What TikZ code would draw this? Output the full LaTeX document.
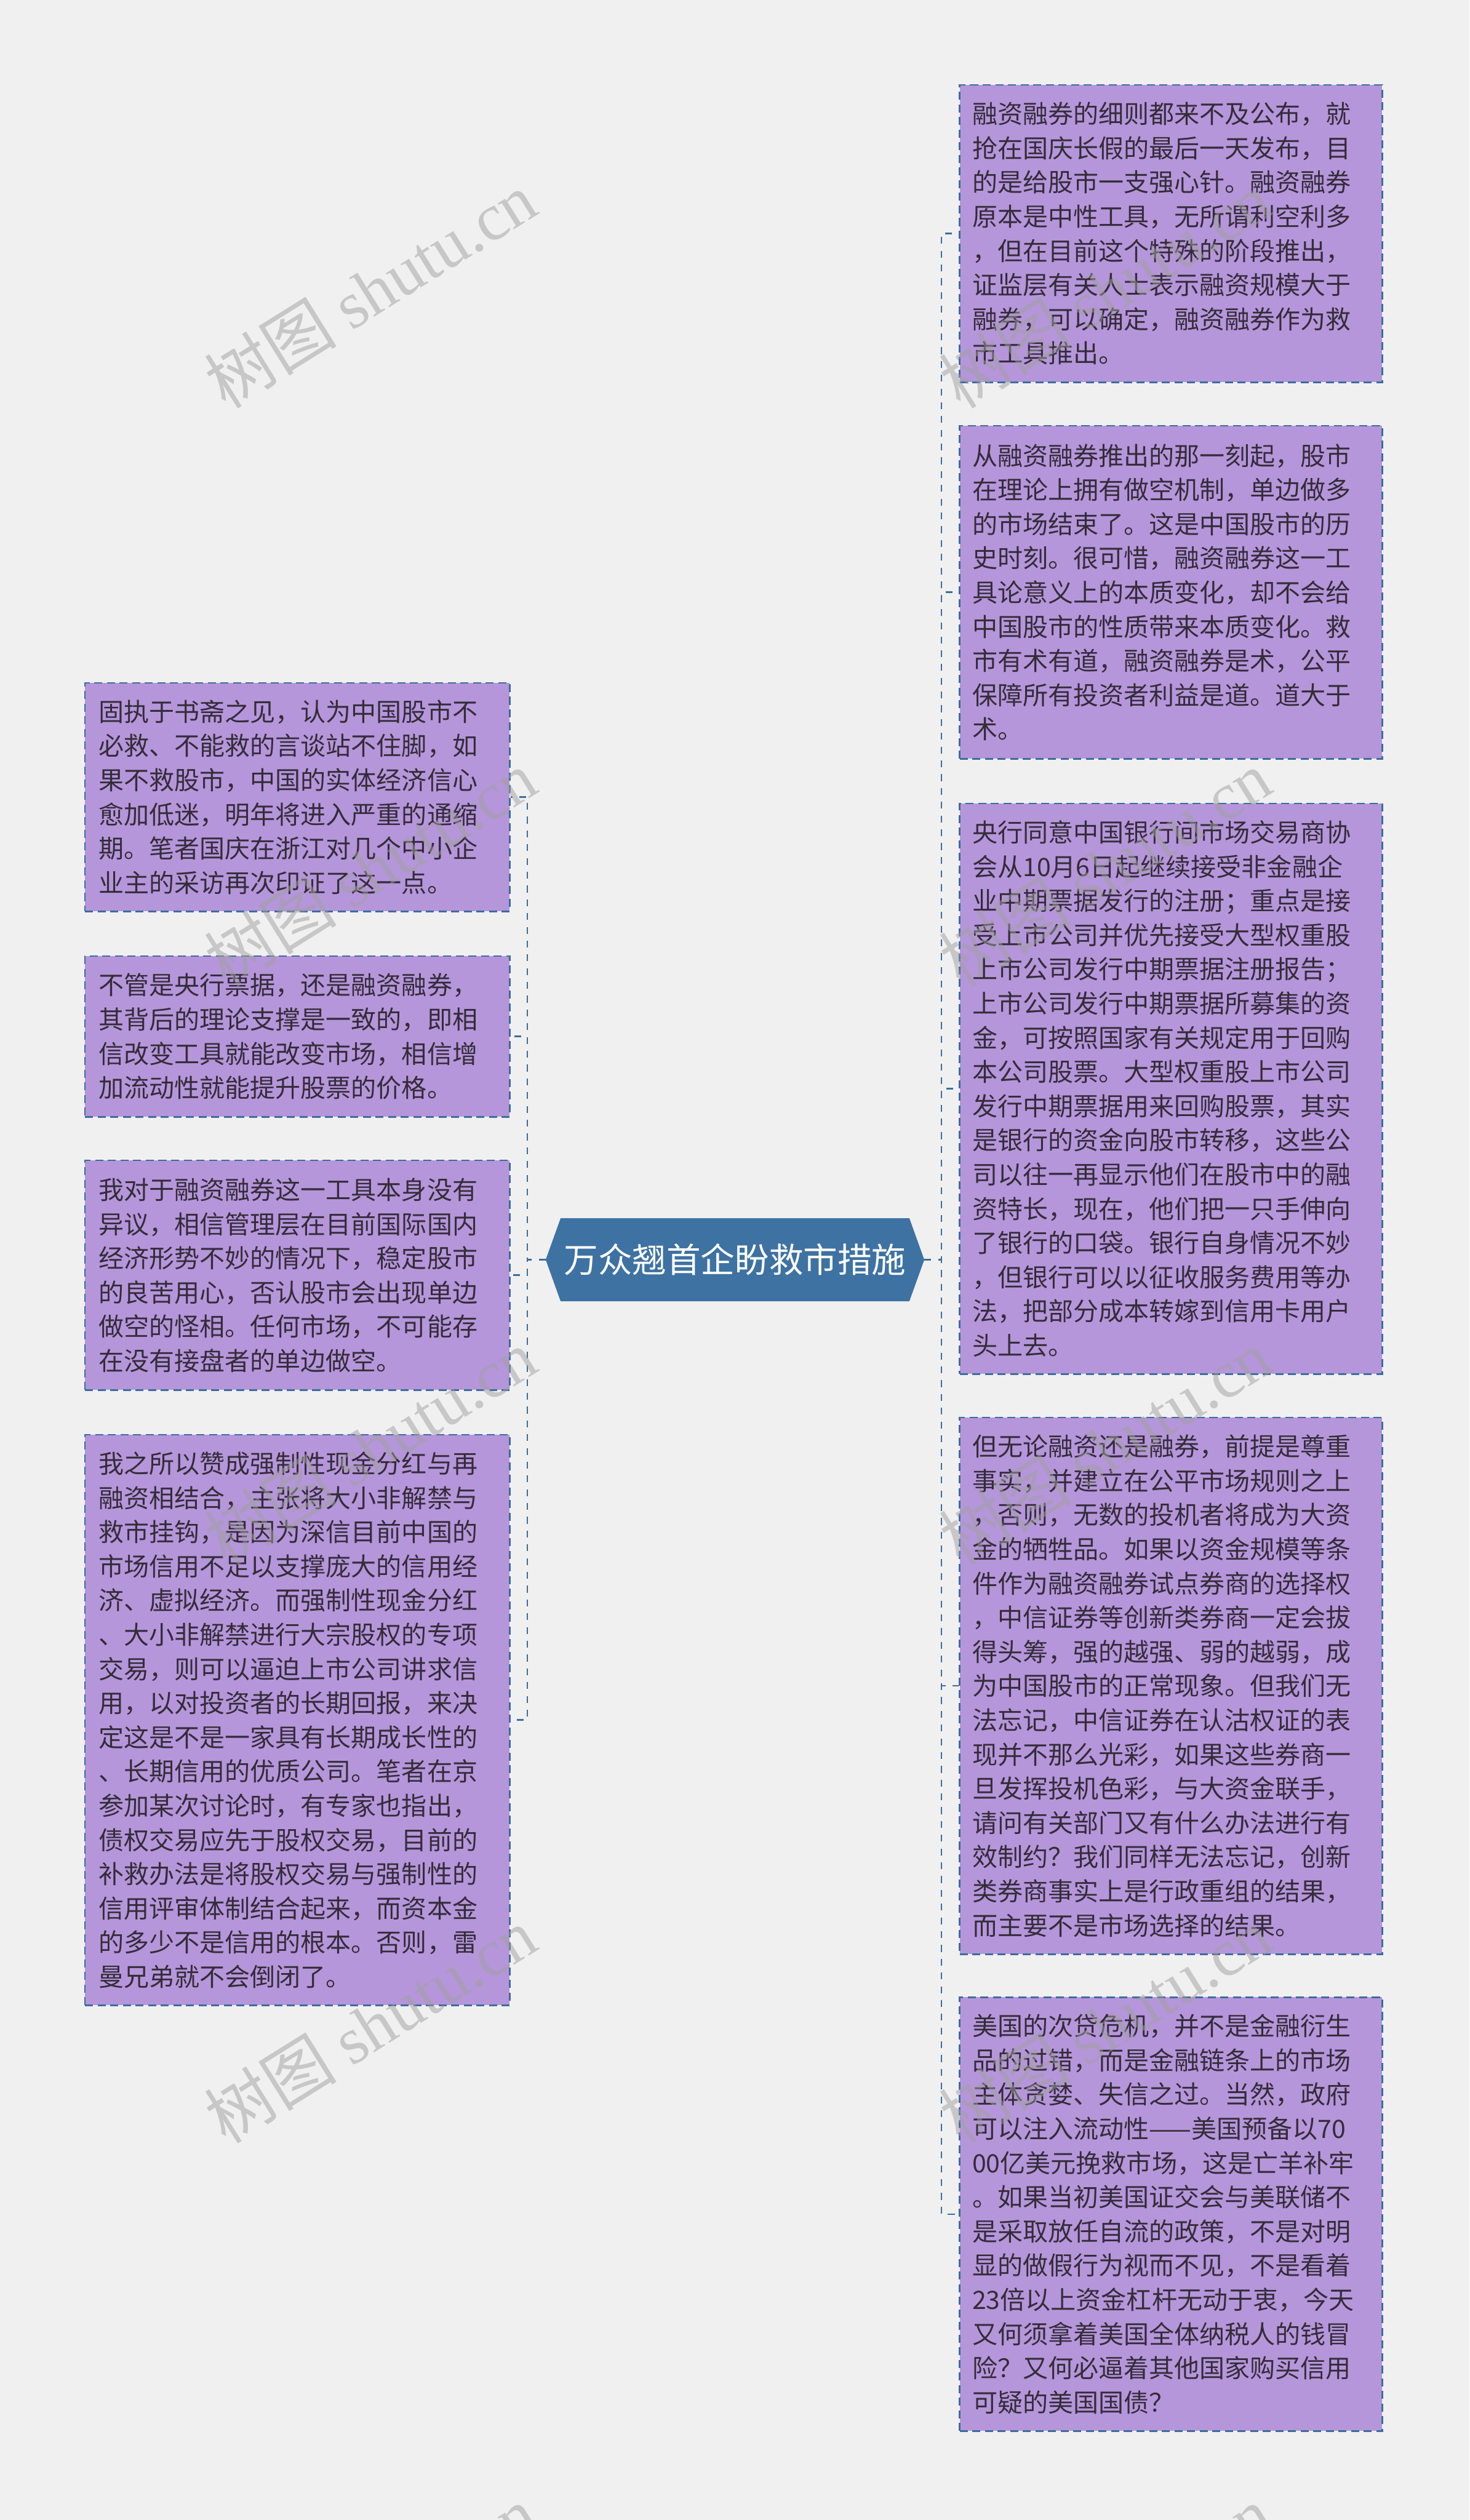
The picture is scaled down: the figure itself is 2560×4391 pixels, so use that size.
\documentclass[tikz,border=0pt]{standalone}
\usepackage{fontspec}
\setmainfont{Noto Sans CJK SC}
\newfontfamily\wmfont{Liberation Serif}
\usepackage{tikz}
\usetikzlibrary{positioning,backgrounds}
\definecolor{bgcol}{HTML}{F0F0F0}
\definecolor{boxfill}{HTML}{B696DA}
\definecolor{boxline}{HTML}{3B6D9E}
\definecolor{rootfill}{HTML}{3D72A3}
\definecolor{textcol}{HTML}{352C3A}
\definecolor{wmcol}{HTML}{A0A0A0}
\tikzset{
	x=0.25pt, y=-0.25pt, % one unit is one pixel of the original, y runs downwards
	note/.style={rectangle, draw=boxline, dash pattern=on 3.5pt off 2pt, line width=0.7pt, fill=boxfill, text=textcol, align=left, text width=173pt, inner xsep=5.5pt, inner ysep=0pt, font=\fontsize{11}{14.9}\selectfont},
	leftnote/.style={note, minimum width=185pt},
	link/.style={draw=boxline, line width=0.7pt, dash pattern=on 3pt off 3pt},
	wmark/.style={text=wmcol, opacity=0.5, rotate=32, inner sep=0pt, font=\fontsize{29}{29}\selectfont}
}

\begin{document}
\begin{tikzpicture}[
        root/.style={rectangle, text=white, minimum width=151.5pt, minimum height=35.75pt, inner sep=0pt, font=\fontsize{14.9}{14.9}\selectfont}
        ]
            \useasboundingbox (0,0) rectangle (2560,4391);
            \node[root] (root) at (1280.5,2195) {万众翘首企盼救市措施};
            \coordinate (rootW) at ([xshift=-6.5pt]root.west);
            \coordinate (rootE) at ([xshift=6.5pt]root.east);
            \begin{scope}[on background layer]
                \fill[bgcol] (0,0) rectangle (2560,4391);
                \fill[rootfill] (root.north west) -- (root.north east) -- (rootE)
                    -- (root.south east) -- (root.south west) -- (rootW) -- cycle;
            \end{scope}
            % left side
            \node[leftnote, minimum height=99.5pt] (lA) at (518,1389) {固执于书斋之见，认为中国股市不\\必救、不能救的言谈站不住脚，如\\果不救股市，中国的实体经济信心\\愈加低迷，明年将进入严重的通缩\\期。笔者国庆在浙江对几个中小企\\业主的采访再次印证了这一点。};
            \node[leftnote, minimum height=70pt] (lB) at (518,1806) {不管是央行票据，还是融资融券，\\其背后的理论支撑是一致的，即相\\信改变工具就能改变市场，相信增\\加流动性就能提升股票的价格。};
            \node[leftnote, minimum height=100pt] (lC) at (518,2222) {我对于融资融券这一工具本身没有\\异议，相信管理层在目前国际国内\\经济形势不妙的情况下，稳定股市\\的良苦用心，否认股市会出现单边\\做空的怪相。任何市场，不可能存\\在没有接盘者的单边做空。};
            \node[leftnote, minimum height=248.5pt] (lD) at (518,2997) {我之所以赞成强制性现金分红与再\\融资相结合，主张将大小非解禁与\\救市挂钩，是因为深信目前中国的\\市场信用不足以支撑庞大的信用经\\济、虚拟经济。而强制性现金分红\\、大小非解禁进行大宗股权的专项\\交易，则可以逼迫上市公司讲求信\\用，以对投资者的长期回报，来决\\定这是不是一家具有长期成长性的\\、长期信用的优质公司。笔者在京\\参加某次讨论时，有专家也指出，\\债权交易应先于股权交易，目前的\\补救办法是将股权交易与强制性的\\信用评审体制结合起来，而资本金\\的多少不是信用的根本。否则，雷\\曼兄弟就不会倒闭了。};
            % right side
            \node[note, minimum height=129.5pt] (rA) at (2040,407) {融资融券的细则都来不及公布，就\\抢在国庆长假的最后一天发布，目\\的是给股市一支强心针。融资融券\\原本是中性工具，无所谓利空利多\\，但在目前这个特殊的阶段推出，\\证监层有关人士表示融资规模大于\\融券，可以确定，融资融券作为救\\市工具推出。};
            \node[note, minimum height=145pt] (rB) at (2040,1032) {从融资融券推出的那一刻起，股市\\在理论上拥有做空机制，单边做多\\的市场结束了。这是中国股市的历\\史时刻。很可惜，融资融券这一工\\具论意义上的本质变化，却不会给\\中国股市的性质带来本质变化。救\\市有术有道，融资融券是术，公平\\保障所有投资者利益是道。道大于\\术。};
            \node[note, minimum height=248.5pt] (rC) at (2040,1897) {央行同意中国银行间市场交易商协\\会从10月6日起继续接受非金融企\\业中期票据发行的注册；重点是接\\受上市公司并优先接受大型权重股\\上市公司发行中期票据注册报告；\\上市公司发行中期票据所募集的资\\金，可按照国家有关规定用于回购\\本公司股票。大型权重股上市公司\\发行中期票据用来回购股票，其实\\是银行的资金向股市转移，这些公\\司以往一再显示他们在股市中的融\\资特长，现在，他们把一只手伸向\\了银行的口袋。银行自身情况不妙\\，但银行可以以征收服务费用等办\\法，把部分成本转嫁到信用卡用户\\头上去。};
            \node[note, minimum height=233.75pt] (rD) at (2040,2937.5) {但无论融资还是融券，前提是尊重\\事实，并建立在公平市场规则之上\\，否则，无数的投机者将成为大资\\金的牺牲品。如果以资金规模等条\\件作为融资融券试点券商的选择权\\，中信证券等创新类券商一定会拔\\得头筹，强的越强、弱的越弱，成\\为中国股市的正常现象。但我们无\\法忘记，中信证券在认沽权证的表\\现并不那么光彩，如果这些券商一\\旦发挥投机色彩，与大资金联手，\\请问有关部门又有什么办法进行有\\效制约？我们同样无法忘记，创新\\类券商事实上是行政重组的结果，\\而主要不是市场选择的结果。};
            \node[note, minimum height=189pt] (rE) at (2040,3858) {美国的次贷危机，并不是金融衍生\\品的过错，而是金融链条上的市场\\主体贪婪、失信之过。当然，政府\\可以注入流动性——美国预备以70\\00亿美元挽救市场，这是亡羊补牢\\。如果当初美国证交会与美联储不\\是采取放任自流的政策，不是对明\\显的做假行为视而不见，不是看着\\23倍以上资金杠杆无动于衷，今天\\又何须拿着美国全体纳税人的钱冒\\险？又何必逼着其他国家购买信用\\可疑的美国国债？};
            % connectors
            \foreach \n in {lA,lB,lC,lD}
                \draw[link] (rootW) -- ++(-32,0) |- (\n.east);
            \foreach \n in {rA,rB,rC,rD,rE}
                \draw[link] (rootE) -- ++(30,0) |- (\n.west);
            % watermark
            \foreach \wx in {645,1925}
                \foreach \wy in {505,1513,2521,3529,4537}
                    \node[wmark] at (\wx,\wy) {树图 {\wmfont shutu.cn}};
        \end{tikzpicture}
\end{document}
